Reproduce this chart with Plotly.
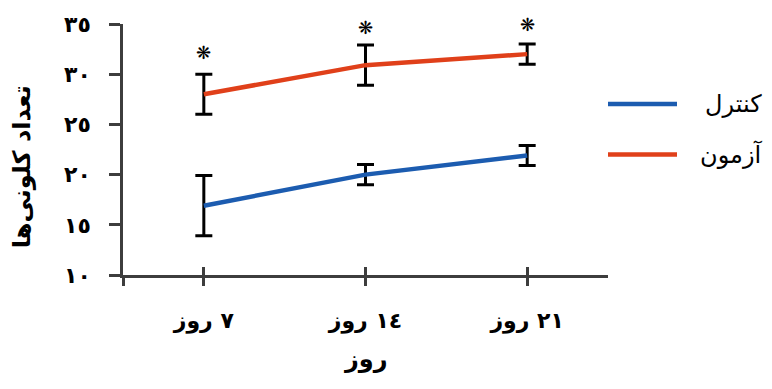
import plotly.graph_objects as go

days = ["٧ روز", "١٤ روز", "٢١ روز"]
x_pos = [0, 1, 2]
control = [16.9, 20.0, 21.9]
control_err = [3.0, 1.0, 1.0]
test = [28.0, 30.9, 32.0]
test_err = [2.0, 2.0, 1.0]
y_ticks = [10, 15, 20, 25, 30, 35]
y_ticktext = ["١٠", "١٥", "٢٠", "٢٥", "٣٠", "٣٥"]
series_names = ["کنترل", "آزمون"]
colors = ["#1c5cb0", "#e0401a"]
star_shift = [22, 18, 20]

FONT = "DejaVu Sans"
fig = go.Figure()

for vals, errs, name, col in [(control, control_err, series_names[0], colors[0]),
                              (test, test_err, series_names[1], colors[1])]:
    fig.add_trace(go.Scatter(
        x=x_pos, y=vals, name=name, mode="lines",
        line=dict(color=col, width=4.5),
        error_y=dict(type="data", array=errs, visible=True, color="black",
                     thickness=3, width=8.5),
        showlegend=False, cliponaxis=False,
    ))

# significance stars above test series
for xi, v, e, s in zip(x_pos, test, test_err, star_shift):
    fig.add_annotation(x=xi, y=v + e, text="❋", showarrow=False, yshift=s,
                       yanchor="middle", font=dict(size=18, color="black", family=FONT))

axis_col = "#3d3d3d"
tickfont = dict(size=22, family=FONT, color="black", weight="bold")
fig.update_layout(
    width=772, height=389,
    margin=dict(l=123, r=164, t=21, b=114),
    paper_bgcolor="white", plot_bgcolor="white",
    font=dict(family=FONT, color="black"),
    xaxis=dict(range=[-0.5, 2.5], tickmode="array", tickvals=[-0.5] + x_pos,
               ticktext=[""] + days, showline=True, linecolor=axis_col, linewidth=2.5,
               ticks="outside", ticklen=8, tickwidth=2.5, tickcolor=axis_col,
               showgrid=False, zeroline=False, tickfont=tickfont,
               ticklabelstandoff=16),
    xaxis2=dict(range=[-0.5, 2.5], overlaying="x", side="bottom", anchor="y",
                tickmode="array", tickvals=x_pos, ticktext=["", "", ""],
                ticks="inside", ticklen=8, tickwidth=2.5, tickcolor=axis_col,
                showgrid=False, zeroline=False, showline=False),
    yaxis=dict(range=[10, 35], tickmode="array", tickvals=y_ticks, ticktext=y_ticktext,
               showline=True, linecolor=axis_col, linewidth=2.5,
               ticks="outside", ticklen=11, tickwidth=2.5, tickcolor=axis_col,
               showgrid=False, zeroline=False, tickfont=tickfont,
               ticklabelstandoff=14),
)
# dummy trace to activate xaxis2
fig.add_trace(go.Scatter(x=[None], y=[None], xaxis="x2", showlegend=False, hoverinfo="skip"))

# axis titles
fig.add_annotation(xref="paper", yref="paper", x=0.5, y=-0.335, yanchor="middle",
                   text="روز", showarrow=False,
                   font=dict(size=24, family=FONT, weight="bold"))
fig.add_annotation(xref="paper", yref="paper", x=-0.208, y=0.43, xanchor="center",
                   yanchor="middle", textangle=-90,
                   text="تعداد کلونی‌ها", showarrow=False,
                   font=dict(size=24, family=FONT, weight="bold"))

# manual legend
for i, (name, col) in enumerate(zip(series_names, colors)):
    ypix = [102, 153][i]
    yp = (275 - ypix) / 254
    fig.add_shape(type="line", xref="paper", yref="paper",
                  x0=(608 - 123) / 485, x1=(677 - 123) / 485, y0=yp, y1=yp,
                  line=dict(color=col, width=4.5))
    fig.add_annotation(xref="paper", yref="paper", x=(764 - 123) / 485, y=yp,
                       xanchor="right", yanchor="middle", text=name, showarrow=False,
                       font=dict(size=24, family=FONT, color="black"))

fig.write_html("out.html", config={"displayModeBar": False},
               post_script="document.body.style.margin='0';document.body.style.overflow='hidden';")
